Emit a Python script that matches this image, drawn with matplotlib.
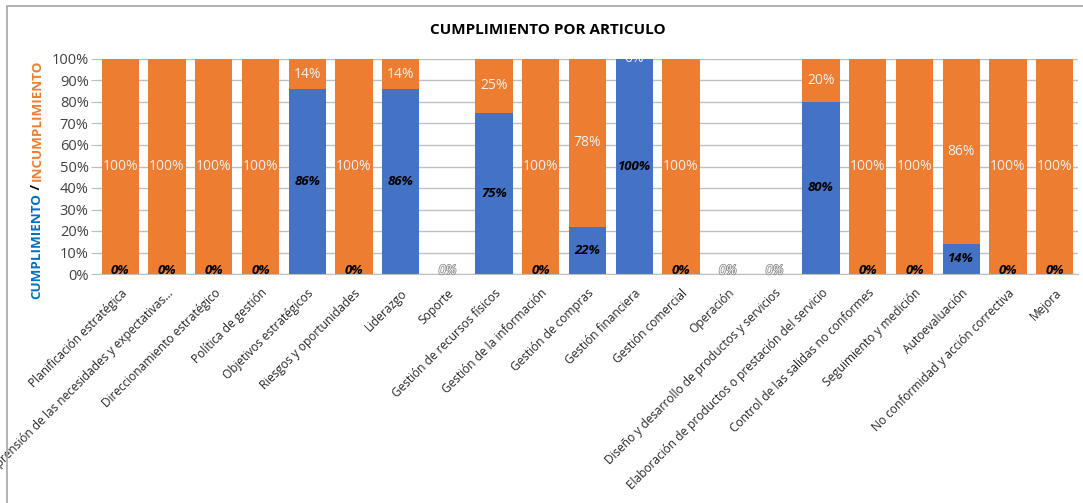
import numpy as np
import matplotlib
matplotlib.use("Agg")
import matplotlib.pyplot as plt
import matplotlib.patheffects as pe
from matplotlib.patches import Rectangle

plt.rcParams["font.family"] = ["Open Sans", "DejaVu Sans"]

# Data
articulos = [
    "Planificación estratégica",
    "Comprensión de las necesidades y expectativas...",
    "Direccionamiento estratégico",
    "Política de gestión",
    "Objetivos estratégicos",
    "Riesgos y oportunidades",
    "Liderazgo",
    "Soporte",
    "Gestión de recursos físicos",
    "Gestión de la información",
    "Gestión de compras",
    "Gestión financiera",
    "Gestión comercial",
    "Operación",
    "Diseño y desarrollo de productos y servicios",
    "Elaboración de productos o prestación del servicio",
    "Control de las salidas no conformes",
    "Seguimiento y medición",
    "Autoevaluación",
    "No conformidad y acción correctiva",
    "Mejora",
]
cumplimiento = [0, 0, 0, 0, 86, 0, 86, 0, 75, 0, 22, 100, 0, 0, 0, 80, 0, 0, 14, 0, 0]
incumplimiento = [100, 100, 100, 100, 14, 100, 14, 0, 25, 100, 78, 0, 100, 0, 0, 20, 100, 100, 86, 100, 100]
sin_datos = [7, 13, 14]  # categories with no evaluation

BLUE = "#4472C4"
ORANGE = "#ED7D31"

fig = plt.figure(figsize=(10.83, 5.03), dpi=100)
W, H = 1083, 503
ax = fig.add_axes([97 / W, 1 - 274 / H, (1078 - 97) / W, (274 - 59) / H])

x = np.arange(len(articulos))
c = np.array(cumplimiento)
inc = np.array(incumplimiento)

ax.bar(x, c, width=0.8, color=BLUE, zorder=2)
ax.bar(x, inc, width=0.8, bottom=c, color=ORANGE, zorder=2)

ax.set_xlim(-0.5, len(x) - 0.5)
ax.set_ylim(0, 100)
ax.set_yticks(np.arange(0, 101, 10))
ax.set_yticklabels([f"{v}%" for v in range(0, 101, 10)], fontsize=10.5, color="#404040")
ax.yaxis.grid(True, color="#BFBFBF", linewidth=1, zorder=0)
ax.set_axisbelow(True)
for s in ["top", "right", "left"]:
    ax.spines[s].set_visible(False)
ax.spines["bottom"].set_color("#BFBFBF")
ax.tick_params(axis="y", length=4, color="#BFBFBF", pad=2)
ax.tick_params(axis="x", length=0, pad=9)
ax.set_xticks(x)
ax.set_xticklabels(articulos, rotation=45, ha="right", rotation_mode="anchor",
                   fontsize=8.6, color="#262626")

# value labels
hollow = [pe.withStroke(linewidth=1.2, foreground="#8C8C8C")]
for i in x:
    if i in sin_datos:
        ax.text(i, 1.5, "0%", ha="center", va="center", fontsize=9.5, style="italic",
                color="white", path_effects=hollow, zorder=4)
        continue
    cy = c[i] / 2 if c[i] > 0 else 1.5
    ax.text(i, cy, f"{c[i]}%", ha="center", va="center", fontsize=9.5,
            fontweight="bold", style="italic", color="black", zorder=4)
    oy = c[i] + inc[i] / 2
    ax.text(i, oy, f"{inc[i]}%", ha="center", va="center", fontsize=10,
            color="#F2F2F2", zorder=4, clip_on=True)

# title
fig.text(548 / W, 1 - 30 / H, "CUMPLIMIENTO POR ARTICULO", ha="center", va="center",
         fontsize=11, fontweight="bold", color="black")

# y label in three colours
fig.canvas.draw()
renderer = fig.canvas.get_renderer()
parts = [("CUMPLIMIENTO", "#0070C0"), (" / ", "black"), ("INCUMPLIMIENTO", ORANGE)]
ylab_x = 37 / W
y0 = 1 - 299 / H
for txt, col in parts:
    t = fig.text(ylab_x, y0, txt, rotation=90, ha="center", va="bottom",
                 fontsize=9.6, fontweight="bold", color=col)
    bb = t.get_window_extent(renderer)
    y0 += bb.height / (H)

# chart border (only top and left edges fall inside the picture)
fig.patches.append(Rectangle((7 / W, -0.5), 1.5, 1.5 - 6 / H, transform=fig.transFigure,
                             fill=False, edgecolor="#A6A6A6", linewidth=1.2))

fig.savefig("out.png", dpi=100)
